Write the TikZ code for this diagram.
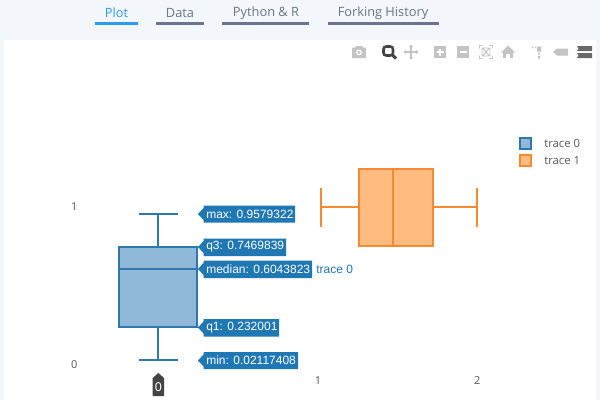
\documentclass[tikz,border=0pt]{standalone}
\usepackage{fontspec}
\setmainfont{Open Sans}
\newfontfamily\arialfont{Liberation Sans}
\definecolor{pagebg}{HTML}{F3F6FB}
\definecolor{tabblue}{HTML}{2A9BEE}
\definecolor{tabgrey}{HTML}{6B7390}
\definecolor{tabtext}{HTML}{6A7389}
\definecolor{blueline}{HTML}{2F78AE}
\definecolor{bluefill}{HTML}{8FB8D9}
\definecolor{hoverblue}{HTML}{1F77B4}
\definecolor{orangeline}{HTML}{F58B2E}
\definecolor{orangefill}{HTML}{FFBB80}
\definecolor{tickgrey}{HTML}{555555}
\definecolor{icongrey}{HTML}{C4C4C4}
\definecolor{icondark}{HTML}{444444}
\tikzset{
  x=0.75pt,y=-0.75pt,
  tabtxt/.style={font=\fontsize{9.6pt}{11pt}\selectfont,text=tabtext,inner sep=0pt,anchor=center},
  tabrule/.style={draw=tabgrey,line width=2.4pt},
  blueedge/.style={draw=blueline,line width=1.5pt},
  orangeedge/.style={draw=orangeline,line width=1.5pt},
  ticklab/.style={font=\fontsize{8.2pt}{10pt}\selectfont,text=tickgrey,inner sep=0pt,anchor=center},
  legtxt/.style={font=\fontsize{8.5pt}{10pt}\selectfont,text=tickgrey,inner sep=0pt,anchor=west},
  hovertxt/.style={font=\arialfont\fontsize{9pt}{11pt}\selectfont,text=white,inner sep=0pt,anchor=west},
  hoverbox/.style={fill=hoverblue,draw=none},
  ic/.style={fill=icongrey,draw=none},
  icl/.style={draw=icongrey,line width=0.9pt},
}
\begin{document}
\begin{tikzpicture}
\useasboundingbox (0,0) rectangle (600,400);
\fill[pagebg] (0,0) rectangle (600,400);
\fill[white] (4,40) rectangle (596,400);
% tabs
\node[tabtxt,text=tabblue] (tplot) at (116.5,13) {Plot};
\node[tabtxt] (tdata) at (180,13) {Data};
\node[tabtxt] (tpy) at (266,13) {Python \& R};
\node[tabtxt] (tfork) at (383,13) {Forking History};
\draw[tabrule,draw=tabblue] (95,23.3) -- (138,23.3);
\draw[tabrule] (156,23.3) -- (204,23.3);
\draw[tabrule] (222,23.3) -- (309,23.3);
\draw[tabrule] (328,23.3) -- (439,23.3);
% toolbar icons
\fill[ic,even odd rule] (352,47.5) -- (355,47.5) -- (356,46) -- (362,46) -- (363,47.5) -- (366,47.5) -- (366,58) -- (352,58) -- cycle
  (359,52.5) circle[radius=3];
\fill[ic] (359,52.5) circle[radius=1.6];
\draw[icondark,line width=1.9pt,rounded corners=2pt] (383.5,46.5) rectangle (393,55.5);
\draw[icondark,line width=2.2pt] (392,54.5) -- (396,58.5);
\draw[icl] (411,45.5) -- (411,59) (404,52) -- (418,52);
\fill[ic] (411,44.5) -- (413,47) -- (409,47) -- cycle (411,59.5) -- (413,57) -- (409,57) -- cycle
  (403.5,52) -- (406,50) -- (406,54) -- cycle (418.5,52) -- (416,50) -- (416,54) -- cycle;
\fill[ic] (434,46) rectangle (446,58);
\draw[white,line width=1.4pt] (440,48.5) -- (440,55.5) (436.5,52) -- (443.5,52);
\fill[ic] (457,46) rectangle (469,58);
\draw[white,line width=1.4pt] (459.5,52) -- (466.5,52);
\draw[icl,line width=0.7pt] (479.5,48.5) -- (479.5,45.5) -- (482.5,45.5) (489.5,45.5) -- (492.5,45.5) -- (492.5,48.5)
  (492.5,55.5) -- (492.5,58.5) -- (489.5,58.5) (482.5,58.5) -- (479.5,58.5) -- (479.5,55.5)
  (483,48.5) -- (489,55.5) (489,48.5) -- (483,55.5) (482,48) rectangle (490,56);
\fill[ic] (508,45.5) -- (515,52.5) -- (513,52.5) -- (513,58) -- (510,58) -- (510,54) -- (506,54) -- (506,58) -- (503,58) -- (503,52.5) -- (501,52.5) -- cycle;
\fill[ic] (537,46.5) rectangle (541,51.5) (538,52.5) rectangle (540,54.5) (538,56) rectangle (540,58.5)
  (532,46.5) rectangle (533.5,48) (535,46.5) rectangle (536,48);
\fill[ic] (553,52) -- (557,48.5) -- (568,48.5) -- (568,55.5) -- (557,55.5) -- cycle;
\fill[icondark!80] (577,46) -- (592,46) -- (592,51) -- (577,51) -- (578.5,48.5) -- cycle
  (577,53) -- (592,53) -- (592,58) -- (577,58) -- (578.5,55.5) -- cycle;
% axis ticks
\node[ticklab] (y1) at (74.3,207) {1};
\node[ticklab] (y0) at (74.3,364.3) {0};
\node[ticklab] (x1) at (318,381) {1};
\node[ticklab] (x2) at (477.3,381) {2};
% trace 1 (orange)
\draw[orangeedge] (321,188) -- (321,226.5) (321,207) -- (358.7,207)
  (433,207) -- (477,207) (477,188) -- (477,226.5);
\filldraw[orangeedge,fill=orangefill] (358.7,169) rectangle (433,245.5);
\draw[orangeedge] (393,169) -- (393,245.5);
% trace 0 (blue)
\draw[blueedge] (139,214) -- (177.5,214) (158,214) -- (158,247)
  (158,327) -- (158,360) (139,360) -- (177.5,360);
\filldraw[blueedge,fill=bluefill] (119,247) rectangle (197,327);
\draw[blueedge] (119,269) -- (197,269);
% hover labels
\fill[hoverbox] (198,214) -- (203.5,208) -- (203.5,205.5) -- (295,205.5) -- (295,222.5) -- (203.5,222.5) -- (203.5,220) -- cycle;
\node[hovertxt] (hmax) at (206,214) {max: 0.9579322};
\fill[hoverbox] (198,247) -- (203.5,241) -- (203.5,238.5) -- (286,238.5) -- (286,256) -- (203.5,256) -- (203.5,253) -- cycle;
\node[hovertxt] (hq3) at (206,247) {q3: 0.7469839};
\fill[hoverbox] (198,269) -- (203.5,263) -- (203.5,260.5) -- (312,260.5) -- (312,278) -- (203.5,278) -- (203.5,275) -- cycle;
\node[hovertxt] (hmed) at (206,269.5) {median: 0.6043823};
\node[hovertxt,text=hoverblue] (htrace) at (316,269.5) {trace 0};
\fill[hoverbox] (198,327.5) -- (203.5,321.5) -- (203.5,319) -- (279,319) -- (279,336.5) -- (203.5,336.5) -- (203.5,333.5) -- cycle;
\node[hovertxt] (hq1) at (206,327.5) {q1: 0.232001};
\fill[hoverbox] (198,360.5) -- (203.5,354.5) -- (203.5,352) -- (298,352) -- (298,369) -- (203.5,369) -- (203.5,366.5) -- cycle;
\node[hovertxt] (hmin) at (206,360.5) {min: 0.02117408};
% x spike label
\fill[icondark] (158.3,373) -- (164,378) -- (164,396) -- (152.7,396) -- (152.7,378) -- cycle;
\node[hovertxt,anchor=center,font=\arialfont\fontsize{9.5pt}{11pt}\selectfont] (hzero) at (158.3,387.5) {0};
% legend
\filldraw[draw=blueline,line width=1.5pt,fill=bluefill] (520,137.5) rectangle (531,148.5);
\filldraw[draw=orangeline,line width=1.5pt,fill=orangefill] (520,154.5) rectangle (531,165.5);
\node[legtxt] (l0) at (544,143.3) {trace 0};
\node[legtxt] (l1) at (544,160.3) {trace 1};
\end{tikzpicture}
\end{document}
